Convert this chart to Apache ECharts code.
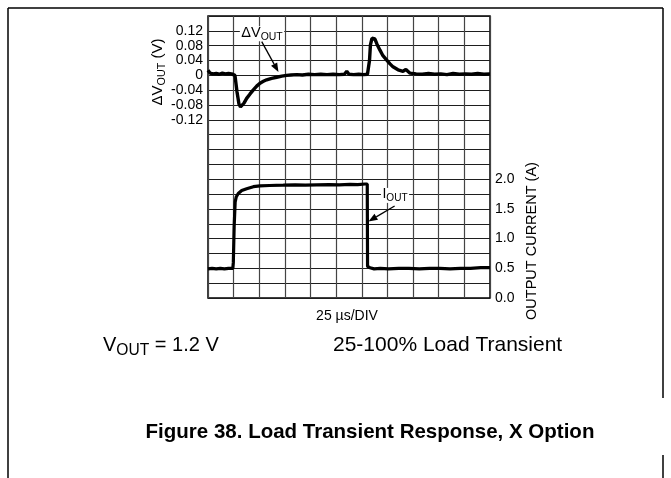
<!DOCTYPE html>
<html>
<head>
<meta charset="utf-8">
<script src="https://cdn.jsdelivr.net/npm/echarts@6/dist/echarts.min.js"></script>
<style>
  html, body { margin: 0; padding: 0; background: #fff; }
  #chart { width: 671px; height: 478px; }
</style>
</head>
<body>
<div id="chart"></div>
<script>
// Scope capture: 25 µs per division, 11 divisions across (time in µs)
const dvTimeUs = [0, 2, 5, 8, 11, 14, 17, 20, 23, 24.4, 26.3, 28.3, 30.2, 31.7, 33.2, 35.1, 37.7,
  41, 44.2, 47.5, 50.7, 54, 57.2, 62, 67, 72, 76.7, 81, 86.5, 92, 98, 104, 110, 116, 122, 128, 133,
  135.3, 137.5, 142, 147, 152, 155.5, 156.5, 157.5, 158.4, 159.9, 161.2, 162.8, 164.8,
  167.7, 170.6, 174.3, 177.5, 180.4, 185.3, 190.2, 193, 197,
  203, 209, 215, 221, 227, 233, 239, 245, 251, 257, 263, 269, 275];
// Output voltage deviation, V
const dvVolts = [0.014, 0.006, 0.004, 0.005, 0.003, 0.006, 0.004, 0.005, 0.004, 0.004, 0.0, -0.045, -0.077, -0.085, -0.083, -0.075, -0.062,
  -0.050, -0.039, -0.029, -0.021, -0.016, -0.012, -0.008, -0.005, -0.002, 0.0, 0.001, 0.002, 0.001, 0.003, 0.002, 0.003, 0.002, 0.003, 0.002, 0.003,
  0.011, 0.003, 0.002, 0.003, 0.002, 0.003, 0.004, 0.040, 0.082, 0.100, 0.104, 0.098, 0.084,
  0.068, 0.053, 0.041, 0.031, 0.023, 0.015, 0.011, 0.016, 0.006,
  0.004, 0.003, 0.005, 0.003, 0.004, 0.002, 0.005, 0.003, 0.004, 0.003, 0.005, 0.003, 0.004];

const iTimeUs = [0, 4, 8, 12, 16, 20, 24.2, 24.7, 25.5, 26.5, 27.5, 29.5, 32.9, 37.7,
  44.2, 50.7, 60, 73.4, 85, 95, 106, 118, 128, 138.5, 146, 153.1, 155.3,
  155.6, 156.2, 158, 162, 168, 176, 186, 196, 206, 216, 226, 236, 246, 256, 266, 275];
// Output current, A
const iAmps = [0.49, 0.50, 0.49, 0.50, 0.49, 0.50, 0.50, 0.60, 1.20, 1.62, 1.70, 1.76, 1.81, 1.84,
  1.875, 1.89, 1.895, 1.90, 1.905, 1.90, 1.905, 1.91, 1.905, 1.915, 1.91, 1.92, 1.92,
  0.53, 0.54, 0.51, 0.49, 0.50, 0.49, 0.50, 0.50, 0.49, 0.50, 0.50, 0.49, 0.50, 0.50, 0.51, 0.51];

const voltTickLabels = ['0.12', '0.08', '0.04', '0', '-0.04', '-0.08', '-0.12'];
const ampTickLabels = ['0.0', '0.5', '1.0', '1.5', '2.0'];

const FONT = '"Liberation Sans", Arial, sans-serif';

const chart = echarts.init(document.getElementById('chart'));

const pair = (xs, ys) => xs.map((x, i) => [x, ys[i]]);

chart.setOption({
  animation: false,
  backgroundColor: '#fff',
  grid: { left: 208, top: 16, width: 282, height: 282, show: true, borderColor: '#000', borderWidth: 1.5, backgroundColor: 'transparent' },
  xAxis: {
    type: 'value', min: 0, max: 275, interval: 25,
    axisLine: { show: false }, axisTick: { show: false }, axisLabel: { show: false },
    splitLine: { show: true, lineStyle: { color: '#444', width: 1.2 } }
  },
  yAxis: [
    {
      type: 'value', min: -0.60, max: 0.16, interval: 0.04,
      axisLine: { show: false }, axisTick: { show: false },
      axisLabel: {
        margin: 5, fontSize: 14, color: '#000', fontFamily: FONT,
        formatter: v => {
          const s = (Math.round(v * 100) / 100);
          const txt = s === 0 ? '0' : s.toFixed(2);
          return voltTickLabels.includes(txt) ? txt : '';
        }
      },
      splitLine: { show: true, lineStyle: { color: '#1e1e1e', width: 1.2 } }
    },
    {
      type: 'value', min: 0, max: 4.75, interval: 0.25, position: 'right',
      axisLine: { show: false }, axisTick: { show: false },
      axisLabel: {
        margin: 5, fontSize: 14, color: '#000', fontFamily: FONT,
        formatter: v => {
          const txt = (Math.round(v * 100) / 100).toFixed(1);
          return (ampTickLabels.includes(txt) && Math.abs(v * 2 - Math.round(v * 2)) < 1e-6) ? txt : '';
        }
      },
      splitLine: { show: false }
    }
  ],
  series: [
    {
      name: 'dV', type: 'line', yAxisIndex: 0, showSymbol: false, z: 5,
      lineStyle: { color: '#000', width: 3.4 }, data: pair(dvTimeUs, dvVolts)
    },
    {
      name: 'I', type: 'line', yAxisIndex: 1, showSymbol: false, z: 5,
      lineStyle: { color: '#000', width: 3.2 }, data: pair(iTimeUs, iAmps)
    }
  ]
});

// ---- text helpers -------------------------------------------------------
const mctx = document.createElement('canvas').getContext('2d');
function measure(text, size, weight) {
  mctx.font = (weight || 'normal') + ' ' + size + 'px "Liberation Sans"';
  return mctx.measureText(text).width;
}
// Build a row of text pieces (some subscripted) starting at local x = 0, centred on y = 0
function textRow(parts, size, weight, subRatio) {
  const children = [];
  let x = 0;
  parts.forEach(p => {
    const fs = p.sub ? size * (subRatio || 0.72) : size;
    const dy = p.sub ? size * 0.28 : 0;
    children.push({
      type: 'text', x: x, y: dy, z: 120,
      style: { text: p.t, font: (weight || 'normal') + ' ' + fs + 'px ' + FONT, fill: '#000', textAlign: 'left', textVerticalAlign: 'middle' }
    });
    x += measure(p.t, fs, weight);
  });
  return { children, width: x };
}
function placedRow(parts, size, opts) {
  const row = textRow(parts, size, opts.weight, opts.subRatio);
  const ox = opts.align === 'center' ? -row.width / 2 : 0;
  row.children.forEach(c => { c.x += ox; });
  return { type: 'group', x: opts.x, y: opts.y, rotation: opts.rotation || 0, children: row.children, z: 120 };
}
function arrow(p0, p1) {
  const ang = Math.atan2(p1[1] - p0[1], p1[0] - p0[0]);
  const L = 9, W = 3.5;
  const bx = p1[0] - L * Math.cos(ang), by = p1[1] - L * Math.sin(ang);
  const nx = -Math.sin(ang), ny = Math.cos(ang);
  return [
    { type: 'line', z: 100, shape: { x1: p0[0], y1: p0[1], x2: bx, y2: by }, style: { stroke: '#000', lineWidth: 1.3 } },
    { type: 'polygon', z: 100, shape: { points: [[p1[0], p1[1]], [bx + nx * W, by + ny * W], [bx - nx * W, by - ny * W]] }, style: { fill: '#000' } }
  ];
}
function labelWithBox(parts, size, cx, cy) {
  const row = textRow(parts, size);
  const left = cx - row.width / 2;
  return [
    { type: 'rect', z: 90, shape: { x: left - 1.5, y: cy - 6.5, width: row.width + 3, height: 15 }, style: { fill: '#fff' } },
    placedRow(parts, size, { x: left, y: cy })
  ];
}

// ---- annotations, anchored in data units --------------------------------
const dvLabelAt = [52.7, 0.115];
const dvArrowFrom = [52.4, 0.091], dvArrowTo = [68.7, 0.009];
const iLabelAt = [182.4, 1.745];
const iArrowFrom = [182.0, 1.55], iArrowTo = [156.5, 1.29];

const px0 = p => chart.convertToPixel({ xAxisIndex: 0, yAxisIndex: 0 }, p);
const px1 = p => chart.convertToPixel({ xAxisIndex: 0, yAxisIndex: 1 }, p);

const dvL = px0(dvLabelAt), iL = px1(iLabelAt);
const plotCx = chart.convertToPixel({ xAxisIndex: 0 }, 137.5);

const elements = []
  .concat(labelWithBox([{ t: 'ΔV' }, { t: 'OUT', sub: true }], 14.5, dvL[0], dvL[1]))
  .concat(arrow(px0(dvArrowFrom), px0(dvArrowTo)))
  .concat(labelWithBox([{ t: 'I' }, { t: 'OUT', sub: true }], 14, iL[0], iL[1]))
  .concat(arrow(px1(iArrowFrom), px1(iArrowTo)))
  .concat([
    // axis titles
    placedRow([{ t: 'ΔV' }, { t: 'OUT', sub: true }, { t: ' (V)' }], 15, { x: 158, y: 72, align: 'center', rotation: Math.PI / 2 }),
    placedRow([{ t: 'OUTPUT CURRENT (A)' }], 14.5, { x: 532, y: 241, align: 'center', rotation: Math.PI / 2 }),
    placedRow([{ t: '25 µs/DIV' }], 14, { x: plotCx - 2, y: 316, align: 'center' }),
    // conditions and caption
    placedRow([{ t: 'V' }, { t: 'OUT', sub: true, }, { t: ' = 1.2 V' }], 20, { x: 103, y: 345, subRatio: 0.78 }),
    placedRow([{ t: '25-100% Load Transient' }], 21, { x: 333, y: 345 }),
    placedRow([{ t: 'Figure 38. Load Transient Response, X Option' }], 20.5, { x: 370, y: 432, align: 'center', weight: 'bold' }),
    // page frame
    { type: 'line', z: 100, shape: { x1: 8, y1: 8, x2: 663, y2: 8 }, style: { stroke: '#000', lineWidth: 1.5 } },
    { type: 'line', z: 100, shape: { x1: 8, y1: 8, x2: 8, y2: 478 }, style: { stroke: '#000', lineWidth: 1.5 } },
    { type: 'line', z: 100, shape: { x1: 663, y1: 8, x2: 663, y2: 398 }, style: { stroke: '#000', lineWidth: 1.5 } },
    { type: 'line', z: 100, shape: { x1: 663, y1: 455, x2: 663, y2: 478 }, style: { stroke: '#000', lineWidth: 1.5 } }
  ]);

chart.setOption({ graphic: { elements } });
</script>
</body>
</html>
